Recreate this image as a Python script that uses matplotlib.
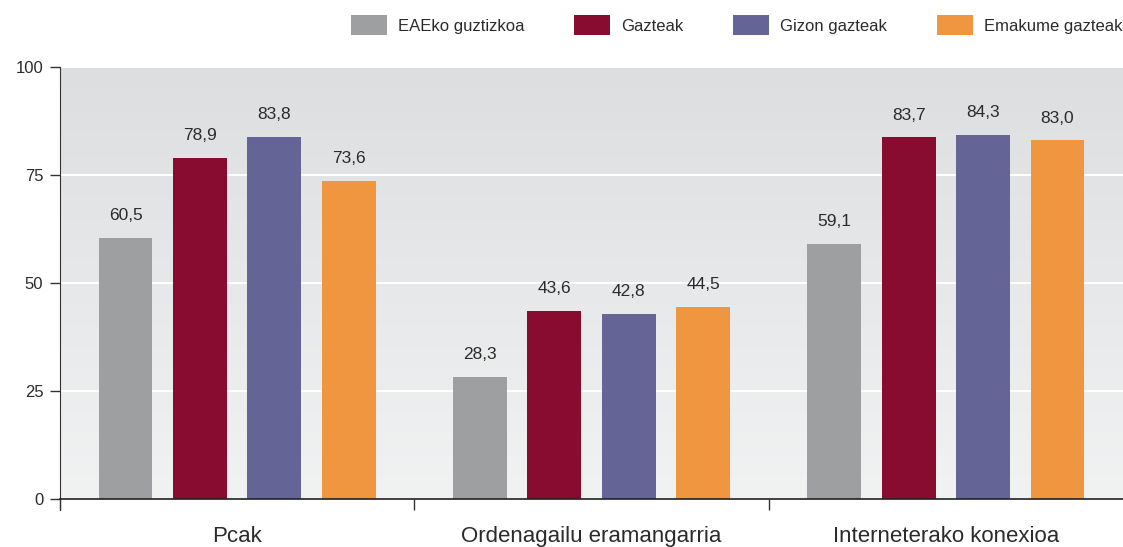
import numpy as np
import matplotlib
matplotlib.use('Agg')
from matplotlib import pyplot as plt
from matplotlib.colors import LinearSegmentedColormap

plt.rcParams['font.family'] = ['Liberation Sans', 'DejaVu Sans']

categories = ['Pcak', 'Ordenagailu eramangarria', 'Interneterako konexioa']
series = ['EAEko guztizkoa', 'Gazteak', 'Gizon gazteak', 'Emakume gazteak']
eae_total = [60.5, 28.3, 59.1]
gazteak = [78.9, 43.6, 83.7]
gizon_gazteak = [83.8, 42.8, 84.3]
emakume_gazteak = [73.6, 44.5, 83.0]
colors = ['#9e9fa1', '#870c30', '#646496', '#f09640']

values = [eae_total, gazteak, gizon_gazteak, emakume_gazteak]
text_color = '#2b2b2b'

fig = plt.figure(figsize=(11.23, 5.47), dpi=100)
ax = fig.add_axes([60 / 1123, 48 / 547, 1063 / 1123, 432 / 547])

# gradient background
bg = LinearSegmentedColormap.from_list('bg', ['#f1f2f2', '#dddee0'])
grad = np.linspace(0, 1, 256).reshape(-1, 1)
ax.imshow(grad, extent=[-0.5, 2.5, 0, 100], origin='lower', aspect='auto',
          cmap=bg, zorder=0)

x = np.arange(len(categories))
width = 0.152
offsets = [-0.315, -0.105, 0.105, 0.315]
for vals, off, col, name in zip(values, offsets, colors, series):
    bars = ax.bar(x + off, vals, width, color=col, label=name, zorder=3)
    for b, v in zip(bars, vals):
        ax.text(b.get_x() + b.get_width() / 2, v + 3.4, f'{v:.1f}'.replace('.', ','),
                ha='center', va='bottom', fontsize=12.5, color=text_color, zorder=4)

ax.set_xlim(-0.5, 2.5)
ax.set_ylim(0, 100)
for yv in [25, 50, 75, 100]:
    ax.axhline(yv, color='white', lw=1.5, zorder=1)

ax.set_yticks([0, 25, 50, 75, 100])
ax.tick_params(axis='y', length=7, width=1, color='#333333', labelsize=12,
               labelcolor=text_color, pad=5)
ax.set_xticks([-0.5, 0.5, 1.5])
ax.set_xticklabels([])
ax.tick_params(axis='x', length=8, width=1, color='#333333', direction='out')
for i, c in enumerate(categories):
    ax.text(i, -6.3, c, ha='center', va='top', fontsize=16, color=text_color)

for s in ['top', 'right']:
    ax.spines[s].set_visible(False)
ax.spines['left'].set_color('#333333')
ax.spines['bottom'].set_color('#222222')
ax.spines['bottom'].set_linewidth(1.2)
ax.spines['left'].set_bounds(-2.6, 100)
ax.spines['bottom'].set_zorder(5)

leg = fig.legend(loc='center right', bbox_to_anchor=(1122 / 1123, 1 - 25 / 547), ncol=4,
                 frameon=False, fontsize=12, handlelength=2.15, handleheight=1.38,
                 handletextpad=0.65, columnspacing=3.0, borderaxespad=0, borderpad=0)
for t in leg.get_texts():
    t.set_color(text_color)

fig.savefig('out.png', dpi=100, facecolor='white')
